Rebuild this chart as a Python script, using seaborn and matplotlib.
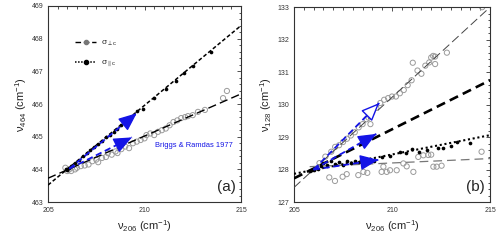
import numpy as np
import pandas as pd
import matplotlib
matplotlib.use("Agg")
import matplotlib.pyplot as plt
import seaborn as sns
from matplotlib.lines import Line2D
from matplotlib.ticker import MultipleLocator

# ---------------- data ----------------
# Panel (a): nu464 vs nu206
a_perp_x = [205.9, 206.0, 206.1, 206.2, 206.4, 206.5, 206.7, 206.9, 207.1, 207.3, 207.5, 207.6,
            207.8, 208.0, 208.1, 208.3, 208.5, 208.6, 208.8, 209.0, 209.2, 209.4, 209.6, 209.8,
            210.0, 210.1, 210.3, 210.5, 210.7, 210.9, 211.1, 211.3, 211.5, 211.7, 211.9, 212.1,
            212.25, 212.5, 212.77, 213.13, 214.07, 214.27]
a_perp_y = [464.05, 463.95, 464.0, 463.95, 464.0, 464.05, 464.1, 464.12, 464.15, 464.25, 464.3, 464.22,
            464.35, 464.38, 464.5, 464.45, 464.55, 464.5, 464.62, 464.7, 464.65, 464.8, 464.85, 464.9,
            464.95, 465.05, 465.1, 465.05, 465.15, 465.2, 465.25, 465.35, 465.45, 465.5, 465.57, 465.6,
            465.63, 465.66, 465.76, 465.82, 466.18, 466.40]
a_par_x = [205.95, 206.0, 206.1, 206.2, 206.4, 206.6, 206.8, 207.0, 207.2, 207.4, 207.6, 207.8,
           208.0, 208.2, 208.4, 208.6, 208.8, 209.0, 209.2, 209.61, 209.92, 210.49, 211.11, 211.63,
           212.05, 212.51, 213.45]
a_par_y = [464.0, 463.97, 464.05, 464.1, 464.2, 464.3, 464.4, 464.5, 464.6, 464.68, 464.78, 464.88,
           464.98, 465.05, 465.15, 465.25, 465.35, 465.45, 465.55, 465.79, 465.85, 466.18, 466.46, 466.70,
           466.95, 467.16, 467.59]
a_fit_x = [205, 215]
a_fit_perp = [463.73, 466.31]
a_fit_par = [463.52, 468.40]
a_arrow_start = [(206.1, 464.02), (206.1, 464.02)]
a_arrow_end = [(209.6, 465.72), (209.35, 464.98)]

# Panel (b): nu128 vs nu206
b_steep_x = [206.3, 206.6, 206.9, 207.1, 207.3, 207.5, 207.7, 207.9, 208.1, 208.3, 208.5, 208.7,
             208.8, 208.9, 209.0, 209.2, 209.4, 209.6, 209.8, 210.0, 210.2, 210.4, 210.6, 210.8,
             211.0, 211.06, 211.3, 211.5, 211.7, 211.9, 212.0, 212.1, 212.2, 212.2, 212.8, 214.6]
b_steep_y = [128.2, 128.4, 128.55, 128.7, 128.75, 128.85, 128.95, 129.05, 129.15, 129.3, 129.4, 129.55,
             129.6, 129.4, 129.8, 129.9, 130.05, 130.15, 130.2, 130.25, 130.25, 130.35, 130.45, 130.6,
             130.75, 131.29, 131.05, 130.95, 131.2, 131.3, 131.45, 131.5, 131.48, 131.25, 131.6, 133.0]
b_flat_x = [206.8, 207.09, 207.48, 207.69, 208.28, 208.54, 208.74, 209.47, 209.56, 209.73, 209.9,
            210.24, 210.58, 210.75, 211.09, 211.34, 211.6, 211.85, 212.0, 212.11, 212.28, 212.53, 214.57]
b_flat_y = [127.76, 127.65, 127.78, 127.86, 127.83, 127.93, 127.9, 127.93, 128.09, 127.93, 127.98,
            127.98, 128.19, 128.1, 127.93, 128.39, 128.44, 128.45, 128.46, 128.09, 128.09, 128.12, 128.55]
b_par_x = [205.8, 205.9, 206.0, 206.1, 206.2, 206.4, 206.5, 206.7, 206.9, 207.1, 207.3, 207.5,
           207.7, 207.9, 208.1, 208.3, 208.5, 208.7, 208.9, 209.1, 209.5, 209.9, 210.41, 210.7,
           211.0, 211.4, 211.8, 212.36, 212.6, 213.0, 213.3, 214.0]
b_par_y = [127.95, 128.0, 127.98, 128.05, 128.02, 128.1, 128.2, 128.15, 128.25, 128.18, 128.22, 128.15,
           128.25, 128.2, 128.28, 128.22, 128.3, 128.25, 128.32, 128.28, 128.38, 128.42, 128.55, 128.5,
           128.62, 128.55, 128.6, 128.65, 128.68, 128.72, 128.84, 128.82]
b_fit_x = [205, 215]
b_fit_steep = [127.45, 133.0]
b_fit_thick = [127.73, 130.75]
b_fit_par = [127.87, 129.06]
b_fit_flat_x = [205.8, 215]
b_fit_flat = [128.09, 128.34]
b_arrow_start = [(206.0, 128.0), (206.0, 128.0), (206.0, 128.0)]
b_arrow_end = [(209.35, 130.05), (209.2, 129.1), (209.3, 128.3)]
b_arrow_open = [True, False, False]

# ---------------- style ----------------
sns.set_style("white")
plt.rcParams["font.family"] = ["Liberation Sans", "DejaVu Sans"]
plt.rcParams["mathtext.fontset"] = "custom"
plt.rcParams["mathtext.rm"] = "Liberation Sans"
plt.rcParams["mathtext.it"] = "Liberation Sans:italic"
plt.rcParams["mathtext.default"] = "regular"

fig = plt.figure(figsize=(5, 2.4), dpi=100)
ax1 = fig.add_axes([0.096, 0.158, 0.386, 0.817])
ax2 = fig.add_axes([0.588, 0.158, 0.392, 0.812])

GRAY = "#9a9a9a"
BLUE = "#1414e6"


def style_axis(ax, ylim, ylab):
    ax.set_xlim(205, 215)
    ax.set_ylim(*ylim)
    ax.xaxis.set_major_locator(MultipleLocator(5))
    ax.xaxis.set_minor_locator(MultipleLocator(0.5))
    ax.yaxis.set_major_locator(MultipleLocator(1))
    ax.yaxis.set_minor_locator(MultipleLocator(0.2))
    ax.tick_params(which="both", direction="in", top=True, right=True,
                   labelsize=5, labelcolor="#333333", width=0.6, color="#333333")
    ax.tick_params(which="major", length=3)
    ax.tick_params(which="minor", length=1.8)
    for s in ax.spines.values():
        s.set_linewidth(0.8)
        s.set_color("#333333")
    ax.set_xlabel("ν$_{206}$ (cm$^{-1}$)", fontsize=8, labelpad=3)
    ax.set_ylabel(ylab, fontsize=8, labelpad=2)


def arrow(ax, start, end, open_head=False):
    ax.plot([start[0], end[0]], [start[1], end[1]], color=BLUE, lw=1.3,
            ls=(0, (3.5, 2)), zorder=6)
    fc = "white" if open_head else BLUE
    dx = end[0] - start[0]
    dy = end[1] - start[1]
    base = (end[0] - dx * 0.05, end[1] - dy * 0.05)
    ax.annotate("", xy=end, xytext=base, zorder=7,
                arrowprops=dict(arrowstyle="-|>,head_length=0.9,head_width=0.38",
                                mutation_scale=12.5, fc=fc, ec=BLUE, lw=1.0,
                                shrinkA=0, shrinkB=0))


# ---------------- panel (a) ----------------
sns.lineplot(x=a_fit_x, y=a_fit_perp, ax=ax1, color="black", lw=1.0,
             linestyle=(0, (6, 3)), zorder=3)
sns.lineplot(x=a_fit_x, y=a_fit_par, ax=ax1, color="black", lw=1.1,
             linestyle=(0, (2.5, 1.5)), zorder=3)
sns.scatterplot(x=a_perp_x, y=a_perp_y, ax=ax1, s=14, facecolor="none",
                edgecolor=GRAY, linewidth=0.7, zorder=2)
sns.scatterplot(x=a_par_x, y=a_par_y, ax=ax1, s=7, color="black",
                edgecolor="black", linewidth=0, zorder=4)
for st, en in zip(a_arrow_start, a_arrow_end):
    arrow(ax1, st, en)
ax1.text(210.55, 464.72, "Briggs & Ramdas 1977", color=BLUE, fontsize=5.4,
         ha="left", va="center")
ax1.text(0.975, 0.04, "(a)", transform=ax1.transAxes, fontsize=11,
         ha="right", va="bottom")
style_axis(ax1, (463, 469), "ν$_{464}$ (cm$^{-1}$)")

handles = [
    Line2D([], [], color="black", lw=1.0, ls=(0, (4, 2)), marker="o",
           markersize=3, mfc="#777777", mec="#777777"),
    Line2D([], [], color="black", lw=1.1, ls=(0, (1, 1)), marker="o",
           markersize=3, mfc="black", mec="black"),
]
ax1.legend(handles, ["σ$_{\\perp c}$", "σ$_{\\parallel c}$"], loc="upper left",
           bbox_to_anchor=(0.1, 0.87), frameon=False, fontsize=6,
           handlelength=2.6, labelspacing=1.3, handletextpad=0.6)

# ---------------- panel (b) ----------------
sns.lineplot(x=b_fit_x, y=b_fit_steep, ax=ax2, color="#444444", lw=0.7,
             linestyle=(0, (9, 4)), zorder=3)
sns.lineplot(x=b_fit_x, y=b_fit_thick, ax=ax2, color="black", lw=1.9,
             linestyle=(0, (3.5, 2)), zorder=3)
sns.lineplot(x=b_fit_x, y=b_fit_par, ax=ax2, color="black", lw=1.5,
             linestyle=(0, (1, 1.3)), zorder=3)
sns.lineplot(x=b_fit_flat_x, y=b_fit_flat, ax=ax2, color="#777777", lw=0.9,
             linestyle=(0, (7, 4)), zorder=3)
sns.scatterplot(x=b_steep_x, y=b_steep_y, ax=ax2, s=14, facecolor="none",
                edgecolor=GRAY, linewidth=0.7, zorder=2)
sns.scatterplot(x=b_flat_x, y=b_flat_y, ax=ax2, s=14, facecolor="none",
                edgecolor=GRAY, linewidth=0.7, zorder=2)
sns.scatterplot(x=b_par_x, y=b_par_y, ax=ax2, s=7, color="black",
                edgecolor="black", linewidth=0, zorder=4)
for st, en, op in zip(b_arrow_start, b_arrow_end, b_arrow_open):
    arrow(ax2, st, en, open_head=op)
ax2.text(0.975, 0.04, "(b)", transform=ax2.transAxes, fontsize=11,
         ha="right", va="bottom")
style_axis(ax2, (127, 133), "ν$_{128}$ (cm$^{-1}$)")

fig.savefig("out.png", dpi=100)
